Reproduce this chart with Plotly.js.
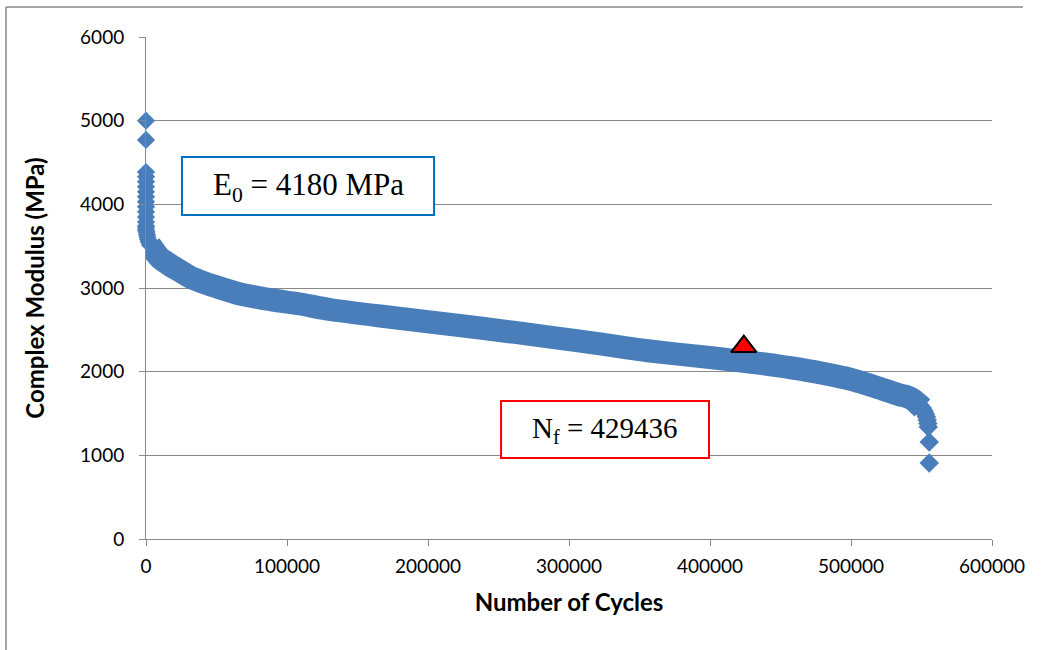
<!DOCTYPE html>
<html>
<head>
<meta charset="utf-8">
<script src="https://cdn.plot.ly/plotly-3.0.1.min.js"></script>
<style>html,body{margin:0;padding:0;background:#fff;}#chart{width:1042px;height:650px;}</style>
</head>
<body>
<div id="chart"></div>
<script>
// Data
const outlierX = [0, 0];
const outlierY = [5000, 4770];
const earlyX = [0, 0, 0, 0, 0, 0, 0, 0, 0, 0, 0, 0, 0, 0, 300, 700, 1000, 1400, 2000, 2800];
const earlyY = [4386, 4330, 4270, 4210, 4150, 4090, 4030, 3970, 3910, 3850, 3790, 3740, 3717, 3690, 3670, 3640, 3610, 3580, 3550, 3514];
const bandX = [2800, 6400, 9900, 17000, 24100, 31200, 41800, 52500, 66700, 85800, 109200, 130500, 166000, 201400, 236900, 286500, 322000, 357400, 400000, 435500, 463800, 499300, 520600, 534700, 538300, 543300, 546800, 550600];
const bandY = [3514, 3430, 3358, 3275, 3203, 3131, 3060, 3000, 2928, 2868, 2809, 2743, 2665, 2594, 2522, 2414, 2331, 2247, 2169, 2100, 2030, 1910, 1800, 1721, 1709, 1673, 1625, 1566];
const tailX = [546800, 549000, 550600, 551800, 552700, 553500, 554100, 554500, 554800, 555500, 555500];
const tailY = [1625, 1600, 1566, 1530, 1494, 1460, 1422, 1380, 1339, 1159, 908];
const failX = [424000];
const failY = [2300];
const e0Text = "E<sub>0</sub> = 4180 MPa";
const nfText = "N<sub>f</sub> = 429436";
const xTitle = "Number of Cycles";
const yTitle = "Complex Modulus (MPa)";

const blue = "#4A7EBB";
const grid = "#888888";

const traces = [
  {x: bandX, y: bandY, mode: "lines", line: {color: blue, width: 23, shape: "spline", smoothing: 0.6}, hoverinfo: "skip", showlegend: false},
  {x: earlyX, y: earlyY, mode: "markers", marker: {symbol: "diamond", size: 14, color: blue}, cliponaxis: false, showlegend: false},
  {x: outlierX, y: outlierY, mode: "markers", marker: {symbol: "diamond", size: 14, color: blue}, cliponaxis: false, showlegend: false},
  {x: tailX, y: tailY, mode: "markers", marker: {symbol: "diamond", size: 15, color: blue}, cliponaxis: false, showlegend: false},
  {x: failX, y: failY, mode: "markers", marker: {symbol: "triangle-up", size: 22, color: "#FF0000", line: {color: "#000000", width: 2}}, cliponaxis: false, showlegend: false}
];

const layout = {
  width: 1042, height: 650,
  margin: {l: 146, r: 50, t: 37, b: 111},
  paper_bgcolor: "#ffffff", plot_bgcolor: "#ffffff",
  showlegend: false,
  font: {family: "Lato, 'Open Sans', sans-serif", color: "#000000", size: 19},
  xaxis: {
    range: [0, 600000], dtick: 100000, tick0: 0, tickformat: "d",
    showgrid: false, zeroline: false, showline: true, linecolor: grid, linewidth: 1,
    ticks: "outside", ticklen: 6, tickcolor: grid, ticklabelstandoff: 4,
    tickfont: {family: "Lato, sans-serif", size: 19, color: "#000"},
    title: {text: xTitle, font: {family: "Lato, sans-serif", size: 24, color: "#000", weight: "bold"}, standoff: 18},
    automargin: false, fixedrange: true
  },
  yaxis: {
    range: [0, 6000], dtick: 1000, tick0: 0,
    showgrid: true, gridcolor: grid, gridwidth: 1, zeroline: false,
    showline: true, linecolor: grid, linewidth: 1,
    ticks: "outside", ticklen: 6, tickcolor: grid, ticklabelstandoff: 11,
    tickfont: {family: "Lato, sans-serif", size: 19, color: "#000"},
    title: {text: yTitle, font: {family: "Lato, sans-serif", size: 24, color: "#000", weight: "bold"}, standoff: 28},
    automargin: false, fixedrange: true
  },
  shapes: [
    {type: "line", xref: "paper", yref: "paper", x0: -0.1655, x1: 1.0366, y0: 1.0598, y1: 1.0598, line: {color: "#888", width: 1.5}},
    {type: "line", xref: "paper", yref: "paper", x0: -0.1655, x1: -0.1655, y0: 1.0598, y1: -0.3, line: {color: "#888", width: 1.5}},
    {type: "rect", xref: "x", yref: "y", x0: 25500, x1: 204300, y0: 3872, y1: 4566, fillcolor: "#ffffff", line: {color: "#0070C0", width: 2}, layer: "above"},
    {type: "rect", xref: "x", yref: "y", x0: 251800, x1: 399300, y0: 968, y1: 1649, fillcolor: "#ffffff", line: {color: "#FF0000", width: 2}, layer: "above"}
  ],
  annotations: [
    {xref: "x", yref: "y", x: 114900, y: 4207, text: e0Text, showarrow: false, xanchor: "center", yanchor: "middle",
     font: {family: "'Liberation Serif', 'Times New Roman', serif", size: 31, color: "#000"}},
    {xref: "x", yref: "y", x: 325500, y: 1300, text: nfText, showarrow: false, xanchor: "center", yanchor: "middle",
     font: {family: "'Liberation Serif', 'Times New Roman', serif", size: 29, color: "#000"}}
  ]
};

Plotly.newPlot("chart", traces, layout, {staticPlot: true, displayModeBar: false});
</script>
</body>
</html>
